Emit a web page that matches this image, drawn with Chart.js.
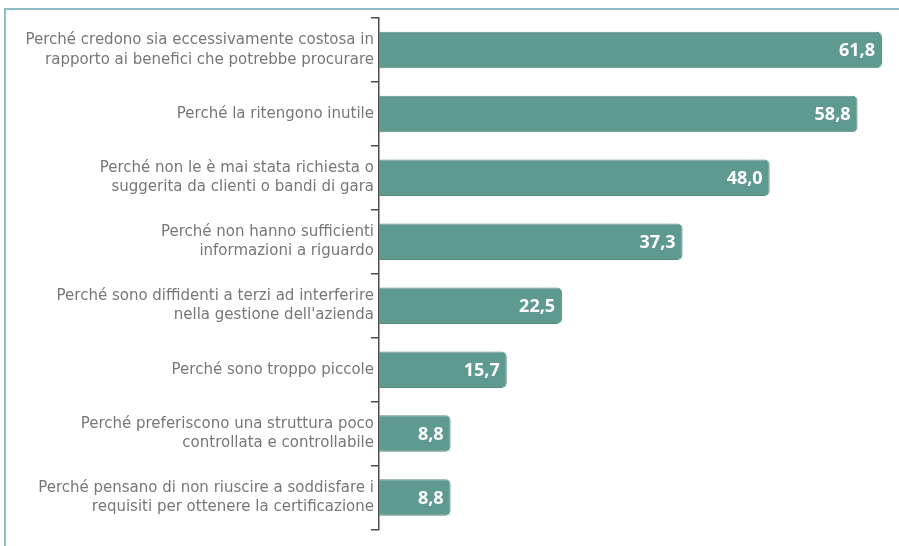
<!DOCTYPE html>
<html lang="it">
<head>
    <meta charset="UTF-8">
    <title>Motivi per non certificarsi</title>
    <script src="https://cdn.jsdelivr.net/npm/chart.js"></script>
    <style>
        html, body { margin: 0; padding: 0; background: #fff; overflow: hidden; }
        #wrap { position: relative; width: 899px; height: 546px; }
        #frame {
            position: absolute; left: 4px; top: 8px; width: 920px; height: 560px;
            border-left: 2px solid #8dbcc3; border-top: 2px solid #8dbcc3;
        }
        canvas { position: absolute; left: 0; top: 0; }
    </style>
</head>
<body>
<div id="wrap">
    <div id="frame"></div>
    <canvas id="motivi" width="899" height="546"></canvas>
</div>
<script>
    // Motivazioni (una riga per elemento dell'array interno)
    const motivi = [
        ['Perché credono sia eccessivamente costosa in', 'rapporto ai benefici che potrebbe procurare'],
        ['Perché la ritengono inutile'],
        ['Perché non le è mai stata richiesta o', 'suggerita da clienti o bandi di gara'],
        ['Perché non hanno sufficienti', 'informazioni a riguardo'],
        ['Perché sono diffidenti a terzi ad interferire', 'nella gestione dell\'azienda'],
        ['Perché sono troppo piccole'],
        ['Perché preferiscono una struttura poco', 'controllata e controllabile'],
        ['Perché pensano di non riuscire a soddisfare i', 'requisiti per ottenere la certificazione']
    ];
    const percentuali = [61.8, 58.8, 48.0, 37.3, 22.5, 15.7, 8.8, 8.8];

    // etichette bianche dentro la barra, con la virgola decimale
    const etichetteValori = {
        id: 'etichetteValori',
        afterDatasetsDraw(chart) {
            const ctx = chart.ctx;
            const meta = chart.getDatasetMeta(0);
            ctx.save();
            ctx.font = 'bold 18px "Open Sans", sans-serif';
            ctx.fillStyle = '#ffffff';
            ctx.textAlign = 'right';
            ctx.textBaseline = 'middle';
            meta.data.forEach((bar, i) => {
                const txt = percentuali[i].toFixed(1).replace('.', ',');
                ctx.fillText(txt, bar.x - 7, bar.y + 1);
            });
            ctx.restore();
        }
    };

    new Chart(document.getElementById('motivi'), {
        type: 'bar',
        data: {
            labels: motivi,
            datasets: [{
                data: percentuali,
                backgroundColor: '#5f9a90',
                borderColor: '#578e85',
                borderWidth: 1,
                borderRadius: { topRight: 5, bottomRight: 5 },
                borderSkipped: 'left',
                categoryPercentage: 1,
                barPercentage: 0.57
            }]
        },
        options: {
            indexAxis: 'y',
            responsive: false,
            animation: false,
            layout: { padding: { left: 10, top: 18, right: 4, bottom: 9 } },
            plugins: { legend: { display: false }, tooltip: { enabled: false } },
            scales: {
                x: {
                    min: 0,
                    max: 63.4,
                    display: false
                },
                y: {
                    afterFit(scale) { scale.width = 369; },
                    border: { display: true, color: '#4d4d4d', width: 1.5 },
                    grid: {
                        offset: true,
                        drawOnChartArea: false,
                        drawTicks: true,
                        tickLength: 8,
                        color: '#4d4d4d',
                        lineWidth: 1.5
                    },
                    ticks: {
                        color: '#777777',
                        padding: -3,
                        font: { family: '"DejaVu Sans", sans-serif', size: 15, lineHeight: 1.3 }
                    }
                }
            }
        },
        plugins: [etichetteValori]
    });
</script>
</body>
</html>
